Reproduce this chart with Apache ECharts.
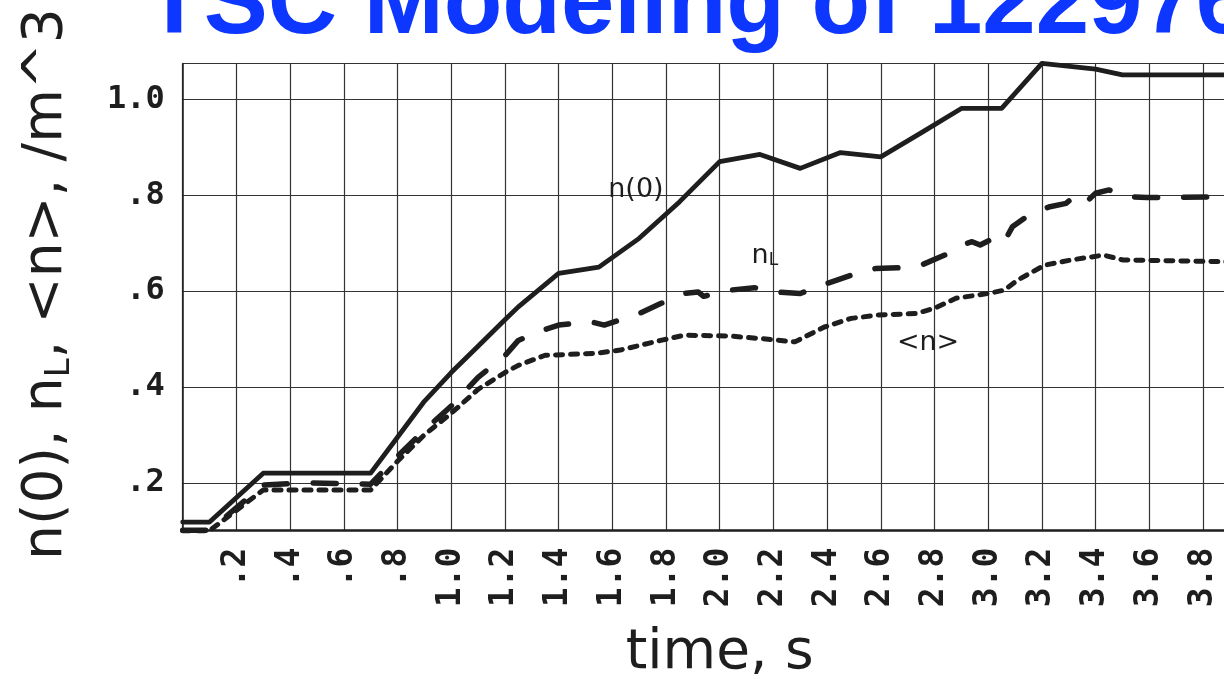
<!DOCTYPE html>
<html><head><meta charset="utf-8">
<script src="https://cdn.jsdelivr.net/npm/echarts@6/dist/echarts.min.js"></script>
<style>html,body{margin:0;padding:0;background:#fff;}#c{width:1224px;height:679px;}</style>
</head><body><div id="c"></div>
<script>
// ---- data ----
const titleText = 'TSC Modeling of 122976';
const xAxisName = 'time, s';
const timeN0 = [0, 0.1, 0.3, 0.7, 0.8, 0.9, 1.0, 1.1, 1.2, 1.25, 1.4, 1.55, 1.7, 1.85, 2.0, 2.15, 2.3, 2.45, 2.6, 2.75, 2.9, 3.05, 3.2, 3.4, 3.5, 3.9];
const n0 = [0.118, 0.118, 0.22, 0.22, 0.295, 0.37, 0.43, 0.485, 0.54, 0.567, 0.637, 0.65, 0.71, 0.786, 0.87, 0.885, 0.856, 0.889, 0.88, 0.93, 0.981, 0.981, 1.075, 1.063, 1.051, 1.051];
const timeNL = [0, 0.1, 0.3, 0.45, 0.7, 0.8, 0.9, 1.0, 1.1, 1.2, 1.25, 1.34, 1.4, 1.52, 1.57, 1.7, 1.78, 1.87, 1.92, 1.94, 2.04, 2.13, 2.21, 2.3, 2.4, 2.49, 2.58, 2.68, 2.75, 2.85, 2.9, 2.94, 2.97, 3.03, 3.06, 3.09, 3.16, 3.23, 3.29, 3.32, 3.36, 3.4, 3.45, 3.5, 3.59, 3.9];
const nL = [0.101, 0.101, 0.195, 0.2, 0.197, 0.255, 0.31, 0.36, 0.42, 0.465, 0.497, 0.518, 0.529, 0.536, 0.529, 0.553, 0.574, 0.595, 0.598, 0.589, 0.602, 0.607, 0.598, 0.595, 0.616, 0.633, 0.647, 0.649, 0.654, 0.678, 0.696, 0.703, 0.696, 0.713, 0.703, 0.734, 0.762, 0.776, 0.783, 0.797, 0.783, 0.804, 0.811, 0.798, 0.795, 0.797];
const timeAvg = [0, 0.1, 0.3, 0.7, 0.8, 0.9, 1.0, 1.1, 1.2, 1.25, 1.35, 1.54, 1.63, 1.78, 1.87, 2.04, 2.15, 2.28, 2.39, 2.49, 2.59, 2.73, 2.8, 2.88, 3.0, 3.06, 3.11, 3.21, 3.31, 3.43, 3.5, 3.9];
const avgN = [0.1, 0.1, 0.185, 0.185, 0.245, 0.3, 0.345, 0.395, 0.43, 0.445, 0.466, 0.47, 0.477, 0.497, 0.508, 0.506, 0.501, 0.494, 0.525, 0.543, 0.55, 0.553, 0.564, 0.585, 0.595, 0.602, 0.623, 0.654, 0.665, 0.675, 0.665, 0.661];
const labelTexts = ['n(0)', 'nL', '<n>'];
const labelTimes = [1.688, 2.168, 2.776];
const labelValues = [0.811, 0.673, 0.491];

function zip(t, v) { return t.map((x, i) => [x, v[i]]); }
function tickFmt(v) {
  if (Math.abs(v) < 1e-9) return '';
  let s = v.toFixed(1);
  if (v < 1) s = s.slice(1);
  return s;
}
const ink = '#1e1e1e';
const chart = echarts.init(document.getElementById('c'), null, {renderer: 'canvas'});
const lineBase = {type: 'line', showSymbol: false, symbol: 'none', clip: false, z: 3};
chart.setOption({
  animation: false,
  backgroundColor: '#fff',
  title: {
    text: titleText, left: 145, top: -41, padding: 0,
    textStyle: {fontFamily: 'Liberation Sans', fontWeight: 'bold', fontSize: 96, color: '#0d36ff'}
  },
  grid: {left: 182.7, right: -32.7, top: 63.4, bottom: 148.3, outerBoundsMode: 'none', containLabel: false},
  xAxis: {
    type: 'value', min: 0, max: 4, interval: 0.2,
    name: xAxisName, nameLocation: 'middle', nameGap: 96, nameMoveOverlap: false,
    nameTextStyle: {fontFamily: 'DejaVu Sans', fontSize: 55, color: ink},
    axisLine: {show: true, lineStyle: {color: ink, width: 2.5}},
    axisTick: {show: false},
    axisLabel: {rotate: 90, margin: 17, formatter: tickFmt, hideOverlap: false,
      fontFamily: 'DejaVu Sans Mono', fontWeight: 'bold', fontSize: 33, color: ink},
    splitLine: {show: true, lineStyle: {color: '#333', width: 1.2}}
  },
  yAxis: {
    type: 'value', min: 0.1, max: 1.075, splitNumber: 5,
    name: '{a|n(0), n}{s|L}{a|, <n>, /m^3}', nameLocation: 'middle', nameGap: 106, nameMoveOverlap: false,
    nameTextStyle: {
      padding: [0, 0, 0, 26],
      rich: {
        a: {fontFamily: 'DejaVu Sans', fontSize: 55, color: ink, lineHeight: 60},
        s: {fontFamily: 'DejaVu Sans', fontSize: 34, color: ink, lineHeight: 40, verticalAlign: 'bottom'}
      }
    },
    axisLine: {show: true, lineStyle: {color: ink, width: 1.5}},
    axisTick: {show: false},
    axisLabel: {margin: 18, formatter: tickFmt, showMinLabel: false, showMaxLabel: false, hideOverlap: false,
      fontFamily: 'DejaVu Sans Mono', fontWeight: 'bold', fontSize: 32, color: ink},
    splitLine: {show: true, lineStyle: {color: '#333', width: 1.2}}
  },
  series: [
    Object.assign({}, lineBase, {
      name: 'n(0)', data: zip(timeN0, n0),
      lineStyle: {color: ink, width: 4.8, cap: 'round', join: 'round'},
      markPoint: {
        symbol: 'circle', symbolSize: 1, itemStyle: {color: 'rgba(0,0,0,0)'},
        label: {show: true, position: 'inside', color: ink, fontFamily: 'DejaVu Sans', fontSize: 27,
          formatter: p => p.name === 'nL' ? 'n{s|L}' : p.name,
          rich: {s: {fontFamily: 'DejaVu Sans', fontSize: 17, color: ink, verticalAlign: 'bottom', lineHeight: 22}}},
        data: labelTexts.map((t, i) => ({name: t, coord: [labelTimes[i], labelValues[i]]}))
      }
    }),
    Object.assign({}, lineBase, {
      name: 'nL', data: zip(timeNL, nL),
      lineStyle: {color: ink, width: 5.5, type: [23, 26], cap: 'round', join: 'round'}
    }),
    Object.assign({}, lineBase, {
      name: '<n>', data: zip(timeAvg, avgN),
      lineStyle: {color: ink, width: 5, type: [7, 8], cap: 'round', join: 'round'}
    })
  ]
});
</script></body></html>
